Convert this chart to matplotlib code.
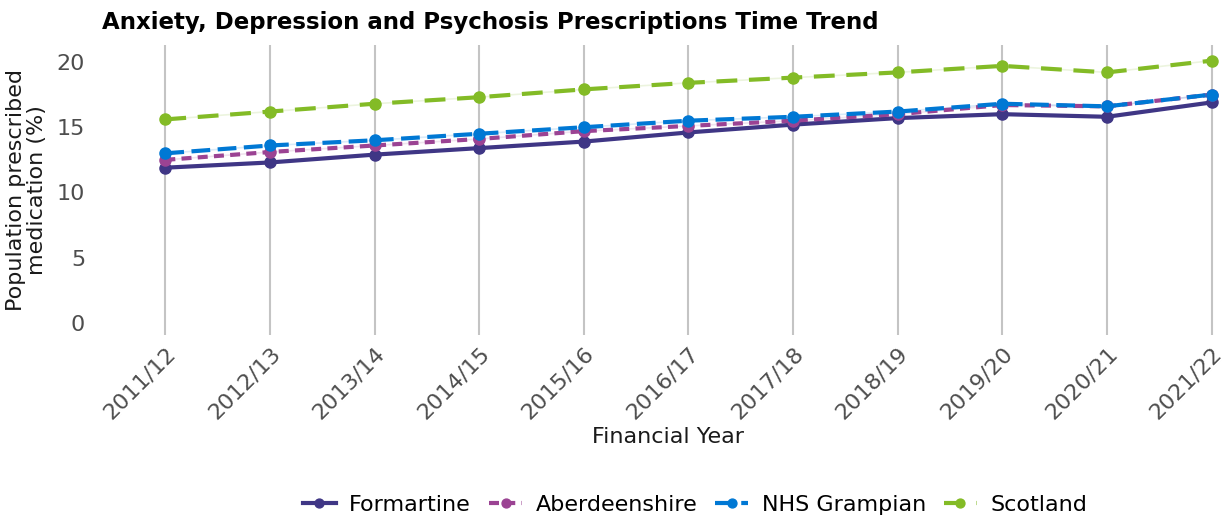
import numpy as np
import matplotlib
matplotlib.use("Agg")
import matplotlib.pyplot as plt

years = ["2011/12", "2012/13", "2013/14", "2014/15", "2015/16", "2016/17",
         "2017/18", "2018/19", "2019/20", "2020/21", "2021/22"]
formartine = [11.9, 12.3, 12.9, 13.4, 13.9, 14.6, 15.2, 15.7, 16.0, 15.8, 16.9]
aberdeenshire = [12.5, 13.1, 13.6, 14.1, 14.7, 15.1, 15.5, 16.0, 16.7, 16.6, 17.5]
nhs_grampian = [13.0, 13.6, 14.0, 14.5, 15.0, 15.5, 15.8, 16.2, 16.8, 16.6, 17.5]
scotland = [15.6, 16.2, 16.8, 17.3, 17.9, 18.4, 18.8, 19.2, 19.7, 19.2, 20.1]

series = [
    ("Formartine", formartine, "#3F3685", (None, None)),
    ("Aberdeenshire", aberdeenshire, "#9B4393", (2.4, 1.5)),
    ("NHS Grampian", nhs_grampian, "#0078D4", (4.5, 1.8)),
    ("Scotland", scotland, "#83BB26", (5, 2.8)),
]

FS = 16

fig = plt.figure(figsize=(12.22, 5.17), dpi=100)
ax = fig.add_axes([113 / 1222, 1 - 335 / 517, 1 - 113 / 1222, (335 - 45) / 517])
x = np.arange(len(years))

handles = []
for name, vals, col, dash in series:
    ax.plot(x, vals, color=col, lw=1.2, alpha=0.15, zorder=2)
    ln, = ax.plot(x, vals, color=col, lw=3, marker="o", markersize=8,
                  label=name, zorder=3)
    if dash[0] is not None:
        ln.set_dashes(dash)
    handles.append(ln)

ax.set_xlim(-0.5, 10.1)
ax.set_ylim(-0.92, 21.3)
ax.set_yticks([0, 5, 10, 15, 20])
ax.set_xticks(x)
ax.set_xticklabels(years, rotation=45, ha="right", rotation_mode="anchor")
ax.tick_params(axis="both", length=0, labelsize=FS, labelcolor="#4D4D4D")
ax.tick_params(axis="x", pad=6)
ax.tick_params(axis="y", pad=20)
ax.grid(axis="x", color="#C4C4C4", lw=1.5)
ax.set_axisbelow(True)
for s in ax.spines.values():
    s.set_visible(False)

ax.set_xlabel("Financial Year", fontsize=FS, color="#1A1A1A", labelpad=3)
ax.set_ylabel("Population prescribed\nmedication (%)", fontsize=FS,
              color="#1A1A1A", labelpad=7, linespacing=1.1)

fig.text(102 / 1222, 1 - 22 / 517, "Anxiety, Depression and Psychosis Prescriptions Time Trend",
         fontsize=16.5, fontweight="bold", color="#000000", va="center", ha="left")

fig.legend(handles=handles, loc="center", bbox_to_anchor=(695 / 1222, 1 - 505 / 517),
           ncol=4, frameon=False, fontsize=FS, handlelength=1.5, handletextpad=0.6,
           columnspacing=0.8, markerscale=0.8)

fig.savefig("out.png", dpi=100)
